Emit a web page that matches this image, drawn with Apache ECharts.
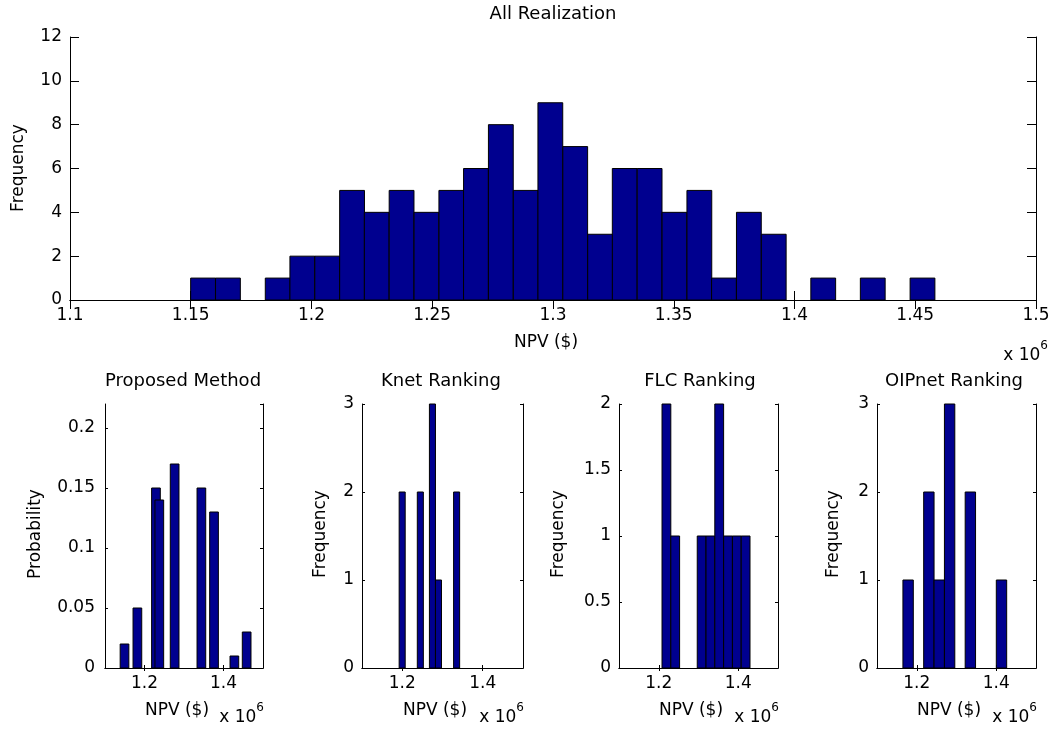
<!DOCTYPE html>
<html><head><meta charset="utf-8">
<script src="https://cdn.jsdelivr.net/npm/echarts@6/dist/echarts.min.js"></script>
<style>html,body{margin:0;padding:0;background:#fff}#c{width:1054px;height:733px}</style>
</head><body><div id="c"></div>
<script>
// ---- data (NPV in units of 10^6 $) ----
const allCenters = [1.1551,1.1654,1.1757,1.1860,1.1962,1.2065,1.2168,1.2270,1.2373,1.2476,
  1.2579,1.2681,1.2784,1.2887,1.2989,1.3092,1.3195,1.3297,1.3400,1.3503,
  1.3606,1.3708,1.3811,1.3914,1.4016,1.4119,1.4222,1.4324,1.4427,1.4530];
const allCounts = [1,1,0,1,2,2,5,4,5,4,5,6,8,5,9,7,3,6,6,4,5,1,4,3,0,1,0,1,0,1];
const allBinWidth = 0.01027;

const proposedCenters = [1.1494,1.1820,1.2290,1.2375,1.2763,1.3440,1.3760,1.4275,1.4586];
const proposedProb = [0.02,0.05,0.15,0.14,0.17,0.15,0.13,0.01,0.03];
const proposedBarWidth = 0.022;

const knetCenters = [1.1998,1.2149,1.2299,1.2449,1.2599,1.2750,1.2900,1.3050,1.3201,1.3351];
const knetCounts = [2,0,0,2,0,3,1,0,0,2];
const knetBinWidth = 0.01503;

const flcCenters = [1.2193,1.2414,1.2636,1.2857,1.3079,1.3300,1.3521,1.3743,1.3964,1.4185];
const flcCounts = [2,1,0,0,1,1,2,1,1,1];
const flcBinWidth = 0.02214;

const oipCenters = [1.1783,1.2044,1.2305,1.2566,1.2827,1.3088,1.3349,1.3610,1.3871,1.4132];
const oipCounts = [1,0,2,1,3,0,2,0,0,1];
const oipBinWidth = 0.0261;

const bottomXTicks = [1.2, 1.4];

// ---- chart ----
const FONT = 'DejaVu Sans';
const BAR = '#00008F';
const chart = echarts.init(document.getElementById('c'));

const grids = [
  {left:70, top:37, width:966, height:263},
  {left:105, top:404, width:158, height:264},
  {left:362, top:404, width:161, height:264},
  {left:619, top:404, width:159, height:264},
  {left:877, top:404, width:159, height:264}
];

function fmt(v){ return String(+v.toFixed(3)); }

const xAxes = [], yAxes = [];
function addAxes(g, xcfg, ycfg, tickLen, yMargin){
  const line = {show:true, lineStyle:{color:'#000', width:1}};
  xAxes.push(Object.assign({type:'value', gridIndex:g, position:'bottom', min:1.1, max:1.5,
    axisLine:line, splitLine:{show:false},
    axisTick:{show:true, inside:true, length:tickLen, lineStyle:{color:'#000'}},
    axisLabel:{show:true, color:'#000', fontFamily:FONT, fontSize:17, margin:7, formatter:fmt}}, xcfg(true)));
  xAxes.push(Object.assign({type:'value', gridIndex:g, position:'top', min:1.1, max:1.5,
    axisLine:line, splitLine:{show:false},
    axisTick:{show:true, inside:true, length:tickLen, lineStyle:{color:'#000'}},
    axisLabel:{show:false}}, xcfg(false)));
  yAxes.push(Object.assign({type:'value', gridIndex:g, position:'left',
    axisLine:line, splitLine:{show:false},
    axisTick:{show:true, inside:true, length:tickLen, lineStyle:{color:'#000'}},
    axisLabel:{show:true, color:'#000', fontFamily:FONT, fontSize:17, margin:yMargin, formatter:fmt, showMaxLabel: ycfg.hideMax ? false : null}},
    {min:ycfg.min, max:ycfg.max, interval:ycfg.interval}));
  yAxes.push({type:'value', gridIndex:g, position:'right', min:ycfg.min, max:ycfg.max, interval:ycfg.interval,
    axisLine:line, splitLine:{show:false},
    axisTick:{show:true, inside:true, length:tickLen, lineStyle:{color:'#000'}},
    axisLabel:{show:false}});
}
const topX = () => ({interval:0.05});
const botX = (lab) => {
  const o = {axisTick:{show:true, inside:true, length:3, lineStyle:{color:'#000'}, customValues:bottomXTicks}};
  if (lab) o.axisLabel = {show:true, color:'#000', fontFamily:FONT, fontSize:17, margin:7, formatter:fmt, customValues:bottomXTicks};
  return o;
};
addAxes(0, topX, {min:0, max:12, interval:2}, 9, 8);
addAxes(1, botX, {min:0, max:0.22, interval:0.05, hideMax:true}, 3, 10);
addAxes(2, botX, {min:0, max:3, interval:1}, 3, 8);
addAxes(3, botX, {min:0, max:2, interval:0.5}, 3, 8);
addAxes(4, botX, {min:0, max:3, interval:1}, 3, 8);

function histSeries(g, centers, heights, w){
  return {
    type:'custom', xAxisIndex:2*g, yAxisIndex:2*g,
    data: centers.map((c,i)=>[c, heights[i]]),
    renderItem: function(params, api){
      const c = api.value(0), h = api.value(1);
      if (!h) return null;
      const p0 = api.coord([c - w/2, h]);
      const p1 = api.coord([c + w/2, 0]);
      return {type:'rect', shape:{x:p0[0], y:p0[1], width:p1[0]-p0[0], height:p1[1]-p0[1]},
        style:{fill:BAR, stroke:'#000', lineWidth:1}};
    },
    silent:true, animation:false
  };
}

function txt(x, y, s, size, opts){
  return Object.assign({type:'text', x:x, y:y, silent:true,
    style:{text:s, fill:'#000', font: size+'px "'+FONT+'"', align:'center', verticalAlign:'middle'}}, opts||{});
}
function vtxt(x, y, s){
  return txt(x, y, s, 17, {rotation:Math.PI/2});
}
function expo(xr, y){
  return {type:'text', x:xr, y:y, silent:true,
    style:{text:'{a|x 10}{s|6}', align:'right', verticalAlign:'middle',
      rich:{a:{fontFamily:FONT, fontSize:17, fill:'#000', lineHeight:24, verticalAlign:'bottom'},
            s:{fontFamily:FONT, fontSize:12, fill:'#000', verticalAlign:'top'}}}};
}

const graphics = [
  txt(553, 14, 'All Realization', 18),
  vtxt(19, 168, 'Frequency'),
  txt(546, 343, 'NPV ($)', 17),
  expo(1048, 352),
  txt(183, 381, 'Proposed Method', 18),
  txt(441, 381, 'Knet Ranking', 18),
  txt(700, 381, 'FLC Ranking', 18),
  txt(954, 381, 'OIPnet Ranking', 18),
  vtxt(36, 534, 'Probability'),
  vtxt(321, 534, 'Frequency'),
  vtxt(559, 534, 'Frequency'),
  vtxt(834, 534, 'Frequency'),
  txt(177, 711, 'NPV ($)', 17), expo(264, 714),
  txt(435, 711, 'NPV ($)', 17), expo(524, 714),
  txt(691, 711, 'NPV ($)', 17), expo(779, 714),
  txt(949, 711, 'NPV ($)', 17), expo(1037, 714)
];

chart.setOption({
  animation:false,
  backgroundColor:'#fff',
  grid: grids,
  xAxis: xAxes,
  yAxis: yAxes,
  series: [
    histSeries(0, allCenters, allCounts, allBinWidth),
    histSeries(1, proposedCenters, proposedProb, proposedBarWidth),
    histSeries(2, knetCenters, knetCounts, knetBinWidth),
    histSeries(3, flcCenters, flcCounts, flcBinWidth),
    histSeries(4, oipCenters, oipCounts, oipBinWidth)
  ],
  graphic: graphics
});
</script>
</body></html>
